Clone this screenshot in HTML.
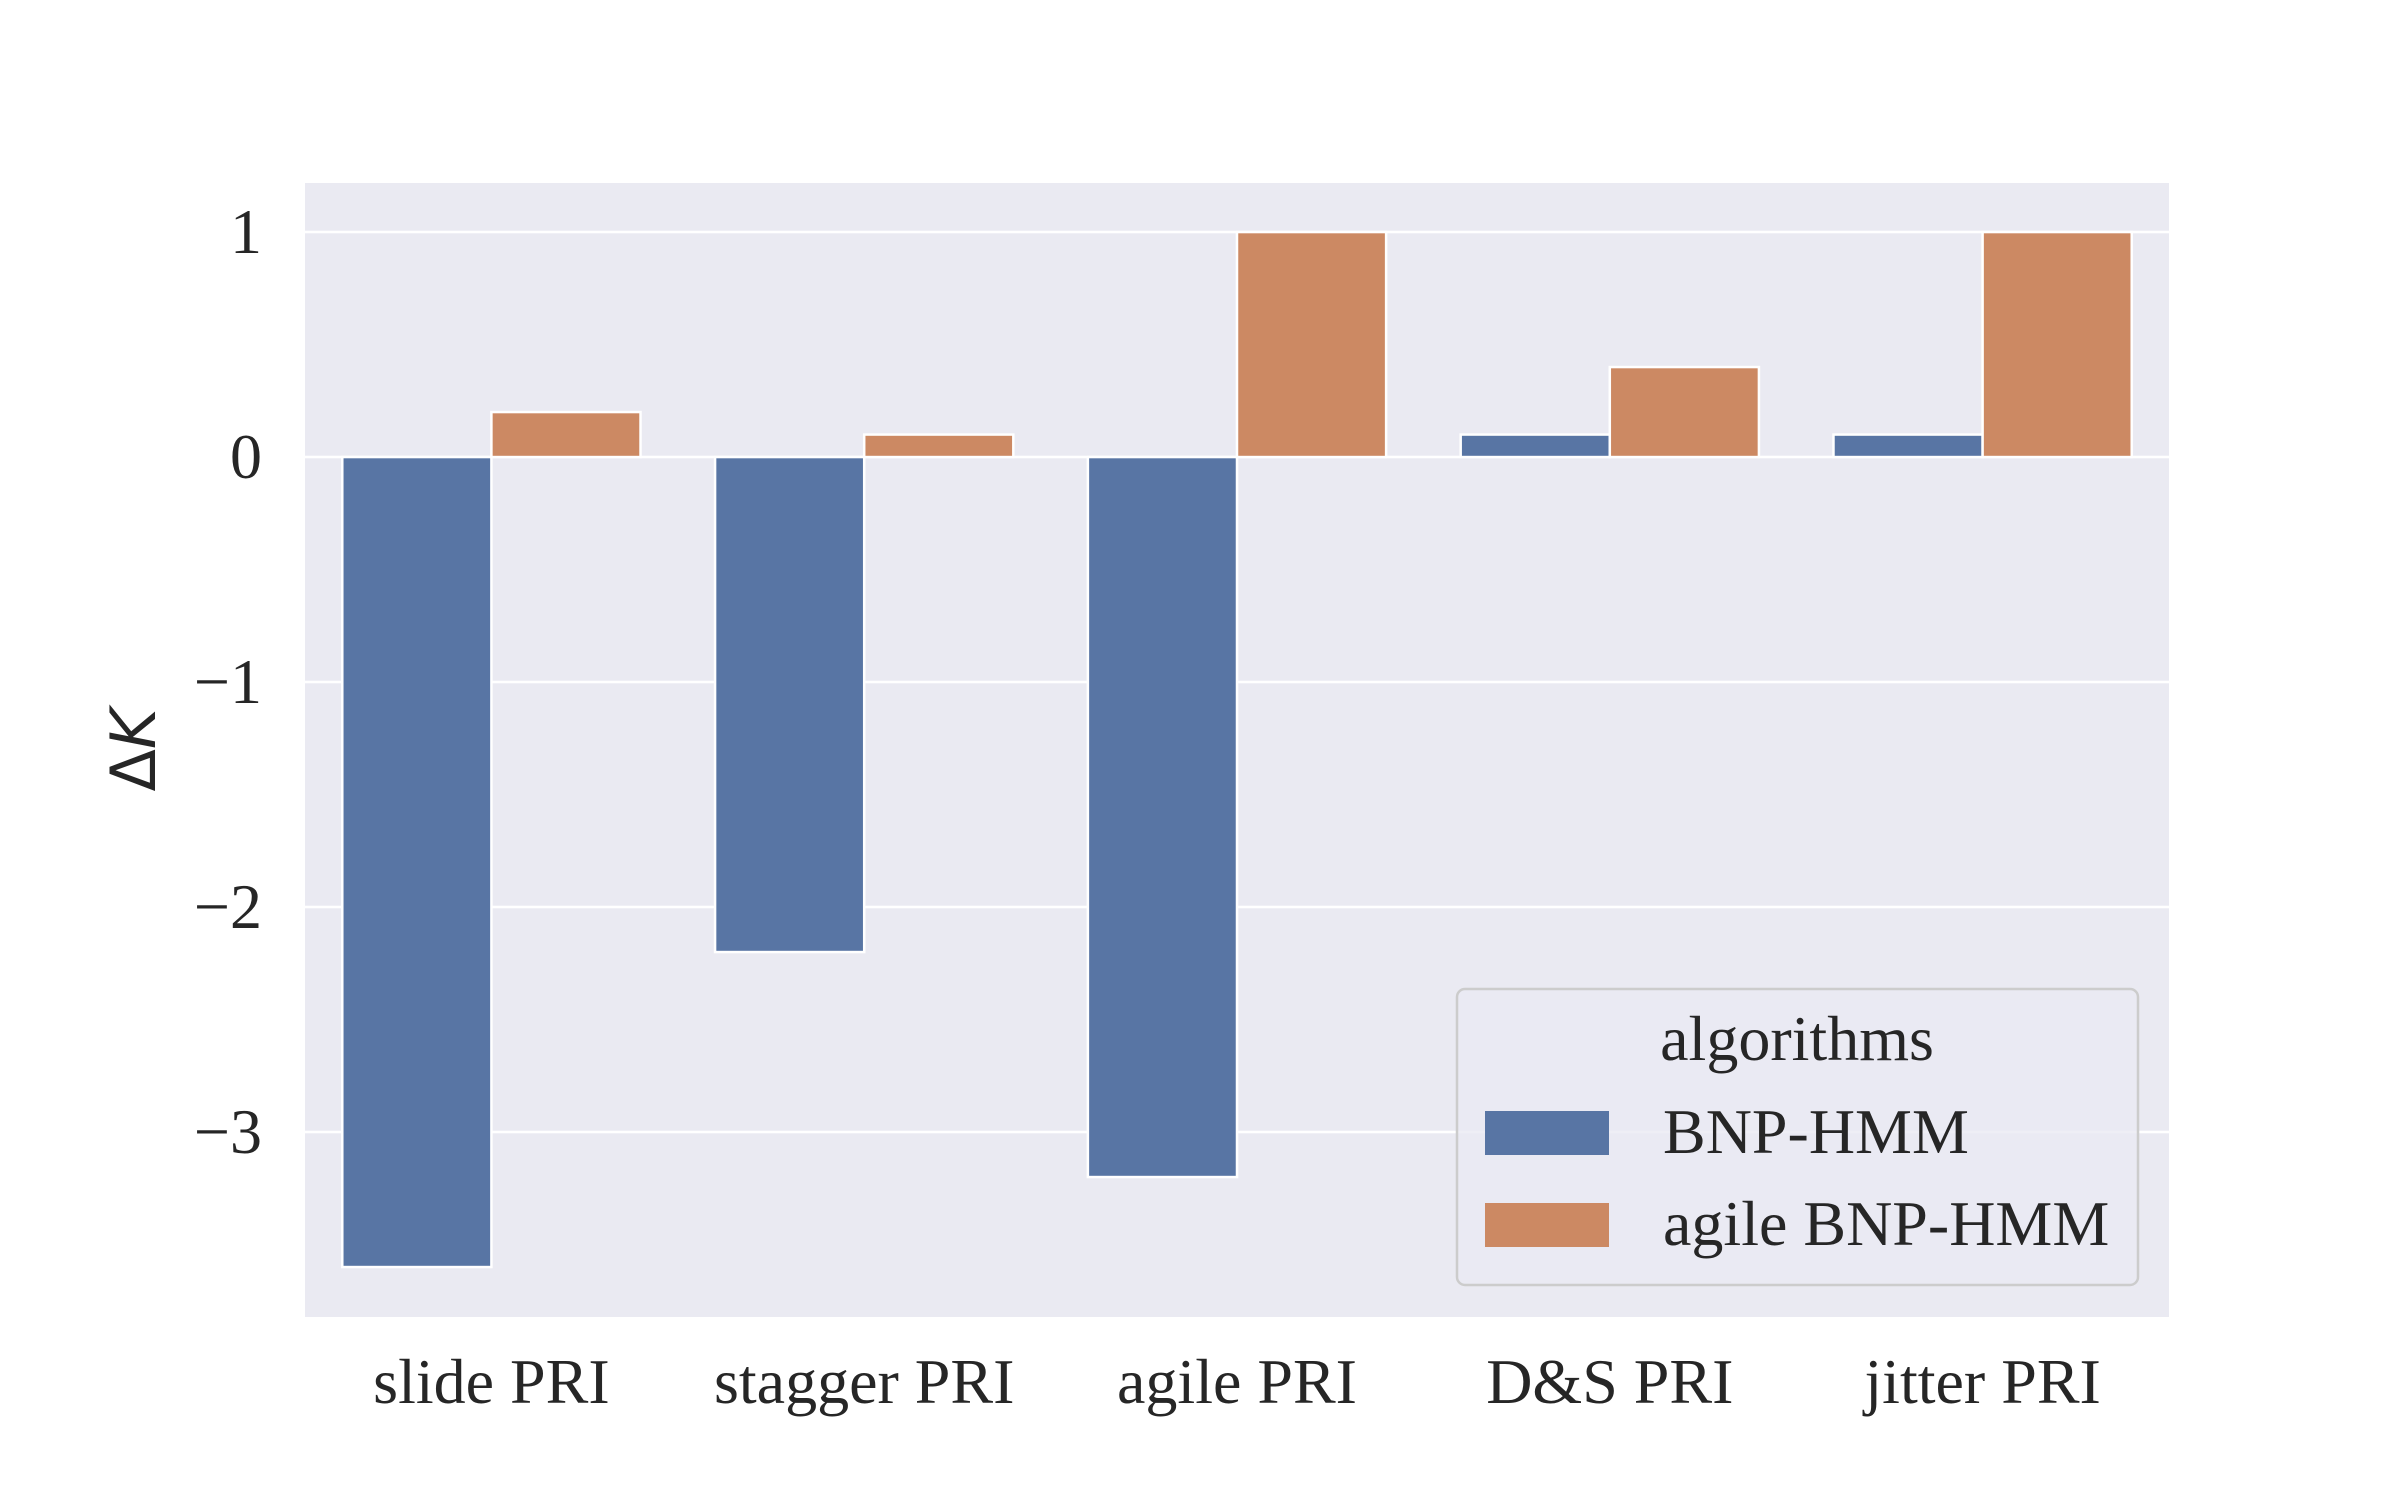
<!DOCTYPE html>
<html><head><meta charset="utf-8"><style>
html,body{margin:0;padding:0;background:#fff;}
svg text{font-family:"Liberation Serif",serif;fill:#262626;}
</style></head><body>
<svg id="chart" width="2400" height="1500" xmlns="http://www.w3.org/2000/svg">
<rect x="305" y="183" width="1864" height="1134" fill="#eaeaf2"/>
<g id="grid"></g><g id="bars"></g><g id="ticks"></g>
<text transform="translate(155,750) rotate(-90)" text-anchor="middle" font-size="62" style="font-family:'DejaVu Sans',sans-serif">Δ<tspan font-style="italic">K</tspan></text>
<g>
<rect x="1457" y="989" width="681" height="296" rx="8" fill="#eaeaf2" fill-opacity="0.8" stroke="#cccccc" stroke-width="2.5"/>
<text x="1797" y="1060" text-anchor="middle" font-size="64">algorithms</text>
<rect x="1485" y="1111" width="124" height="44" fill="#5875a4"/>
<text x="1663" y="1153" font-size="64">BNP-HMM</text>
<rect x="1485" y="1203" width="124" height="44" fill="#cc8963"/>
<text x="1663" y="1245" font-size="64">agile BNP-HMM</text>
</g>
</svg>
<script>
const categories=["slide PRI","stagger PRI","agile PRI","D&S PRI","jitter PRI"];
const bnpValues=[-3.6,-2.2,-3.2,0.1,0.1];
const agileValues=[0.2,0.1,1.0,0.4,1.0];
const yTicks=[1,0,-1,-2,-3];
const yTickLabels=["1","0","\u22121","\u22122","\u22123"];
const NS="http://www.w3.org/2000/svg";
const px0=305,px1=2169,py0=183,py1=1317,ymax=1.218,ymin=-3.822;
function ys(v){return py0+(ymax-v)/(ymax-ymin)*(py1-py0);}
const step=(px1-px0)/categories.length;
function xs(i){return px0+step*(i+0.5);}
function mk(tag,attrs,parent){const e=document.createElementNS(NS,tag);for(const k in attrs)e.setAttribute(k,attrs[k]);document.getElementById(parent).appendChild(e);return e;}
yTicks.forEach((t,i)=>{
 const l=mk('line',{x1:px0,x2:px1,y1:ys(t),y2:ys(t),stroke:'#fff','stroke-width':2.5},'grid');
 
 
 const tx=mk('text',{x:262,y:ys(t)+21,'text-anchor':'end','font-size':'64'},'ticks');
 tx.textContent=yTickLabels[i];
 
 
});
const bw=step*0.4;
categories.forEach((c,i)=>{
 const x=xs(i);
 [[bnpValues[i],'#5875a4',x-bw,'bar-bnp-hmm'],[agileValues[i],'#cc8963',x,'bar-agile-bnp-hmm']].forEach(([v,col,bx,nm])=>{
  const y=Math.min(ys(v),ys(0)),h=Math.abs(ys(v)-ys(0));
  const r=mk('rect',{x:bx,y:y,width:bw,height:h,fill:col,stroke:'#fff','stroke-width':2.5},'bars');
  
  
 });
 const t=mk('text',{x:x,y:1403,'text-anchor':'middle','font-size':'64'},'ticks');
 t.textContent=c;
 
 
});
</script>
</body></html>
